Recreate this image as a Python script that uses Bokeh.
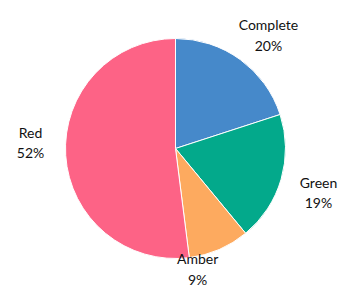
import math
from bokeh.plotting import figure
from bokeh.models import ColumnDataSource, Range1d
from bokeh.core.properties import value
from bokeh.embed import file_html
from bokeh.resources import INLINE

categories = ["Complete", "Green", "Amber", "Red"]
values = [20, 19, 9, 52]
colors = ["#4689CA", "#03A98B", "#FDAA5F", "#FD6386"]
label_radius = [1.334, 1.36, 1.115, 1.319]
label_angle_shift_deg = [-3.3, -0.9, -13.0, -6.0]

total = sum(values)
starts, ends, lx, ly, texts = [], [], [], [], []
cum = 0.0
for cat, v, lr, sh in zip(categories, values, label_radius, label_angle_shift_deg):
    a0 = math.pi / 2 - 2 * math.pi * cum / total
    cum += v
    a1 = math.pi / 2 - 2 * math.pi * cum / total
    starts.append(a0)
    ends.append(a1)
    mid = (a0 + a1) / 2 + math.radians(sh)
    lx.append(lr * math.cos(mid))
    ly.append(lr * math.sin(mid))
    texts.append(f"{cat}\n{round(100 * v / total)}%")

src = ColumnDataSource(dict(start=starts, end=ends, color=colors))
lsrc = ColumnDataSource(dict(x=lx, y=ly, text=texts))

W, H = 352, 288
scale = 110.0
cx, cy = 175.0, 148.0
p = figure(width=W, height=H, output_backend="svg", toolbar_location=None,
           x_range=Range1d(-cx / scale, (W - cx) / scale),
           y_range=Range1d(-(H - cy) / scale, cy / scale),
           min_border=0)
p.axis.visible = False
p.grid.visible = False
p.outline_line_color = None
p.background_fill_color = "white"
p.border_fill_color = "white"

p.wedge(x=0, y=0, radius=1.0, start_angle="start", end_angle="end",
        direction="clock", fill_color="color", line_color="white",
        line_width=1, source=src)
p.text(x="x", y="y", text="text", source=lsrc, text_align="center",
       text_baseline="middle", text_font=value("Lato"),
       text_font_size="14px", text_color="#111111", text_line_height=1.2)

open("out.html", "w").write(file_html(p, INLINE))
